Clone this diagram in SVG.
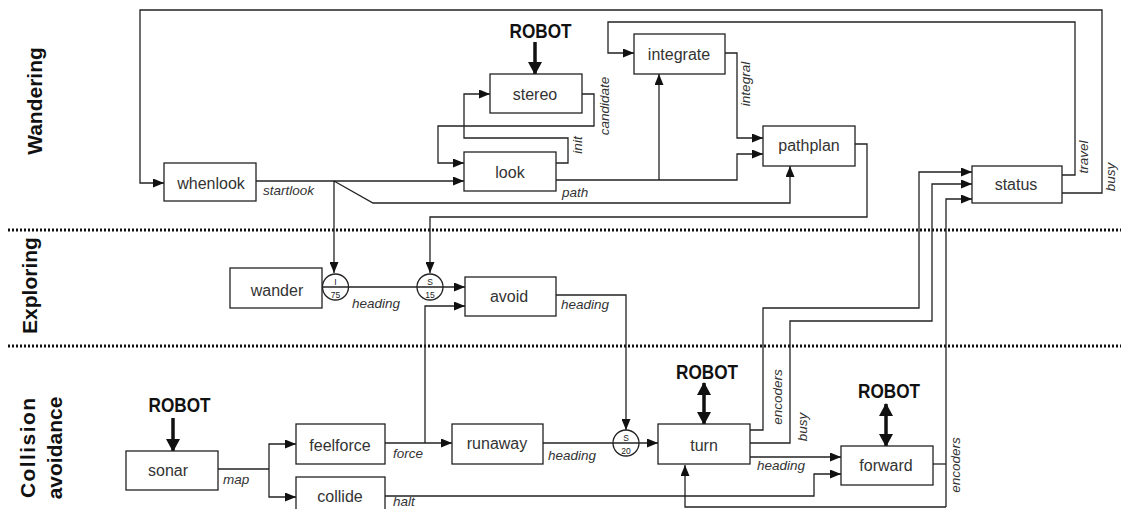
<svg xmlns="http://www.w3.org/2000/svg" width="1121" height="509" viewBox="0 0 1121 509">
<style>
.box{fill:#fff;stroke:#222;stroke-width:1.3}
.lbl{font-family:"Liberation Sans",Arial,sans-serif;font-size:16px;fill:#333;text-anchor:middle}
.it{font-family:"Liberation Sans",Arial,sans-serif;font-size:13.5px;font-style:italic;fill:#333}
.itr{font-family:"Liberation Sans",Arial,sans-serif;font-size:13.5px;font-style:italic;fill:#333;text-anchor:middle}
.side{font-family:"Liberation Sans",Arial,sans-serif;font-size:21px;font-weight:bold;fill:#111;text-anchor:middle}
.robot{font-family:"Liberation Sans",Arial,sans-serif;font-size:20px;font-weight:bold;fill:#111;text-anchor:middle}
.ln{fill:none;stroke:#222;stroke-width:1.3}
.arr{fill:none;stroke:#222;stroke-width:1.3;marker-end:url(#ah)}
.thick{fill:none;stroke:#111;stroke-width:3.5}
.sep{stroke:#111;stroke-width:3;stroke-dasharray:2 2}
.circ{fill:none;stroke:#222;stroke-width:1.3}
.tiny{font-family:"Liberation Sans",Arial,sans-serif;font-size:8.5px;fill:#222;text-anchor:middle}
</style>
<defs>
<marker id="ah" markerUnits="userSpaceOnUse" markerWidth="11" markerHeight="9" refX="11" refY="4.5" orient="auto">
<path d="M0,0 L11,4.5 L0,9 z" fill="#111"/>
</marker>
<marker id="big" markerUnits="userSpaceOnUse" markerWidth="14" markerHeight="14" refX="12" refY="7" orient="auto">
<path d="M0,0 L13,7 L0,14 z" fill="#111"/>
</marker>
<marker id="bigs" markerUnits="userSpaceOnUse" markerWidth="14" markerHeight="14" refX="1" refY="7" orient="auto">
<path d="M13,0 L0,7 L13,14 z" fill="#111"/>
</marker>
</defs>

<g id="separators">
<line class="sep" x1="8" y1="230" x2="1121" y2="230"/>
<line class="sep" x1="8" y1="346" x2="1121" y2="346"/>
</g>

<g id="layer-labels">
<text class="side" transform="translate(42,101) rotate(-90)">Wandering</text>
<text class="side" transform="translate(37,285.5) rotate(-90)">Exploring</text>
<text class="side" transform="translate(35,448) rotate(-90)" textLength="100" lengthAdjust="spacing">Collision</text>
<text class="side" transform="translate(62,448) rotate(-90)">avoidance</text>
</g>

<g id="connectors">
<path class="arr" d="M1062,193 H1102 V10 H140 V183 H164"/>
<path class="arr" d="M1062,175 H1075 V22 H608 V53 H634"/>
<path class="arr" d="M256,181 H464"/>
<path class="arr" d="M334,181 V273"/>
<path class="arr" d="M334,181 L373,203 H790 V166"/>
<path class="arr" d="M582,94 H594 V126 H438 V163 H464"/>
<path class="arr" d="M556,163 H568 V138 H464 V94 H490"/>
<path class="arr" d="M556,180 H737 V154 H763"/>
<path class="arr" d="M659,180 V74"/>
<path class="arr" d="M725,53 H737 V138 H763"/>
<path class="arr" d="M855,144 H867 V217 H430 V273"/>
<path class="arr" d="M322,287 H465"/>
<path class="arr" d="M556,295 H626 V430"/>
<path class="ln" d="M218,469 H269"/>
<path class="arr" d="M269,469 V444 H296"/>
<path class="arr" d="M269,469 V497 H296"/>
<path class="arr" d="M385,443 H452"/>
<path class="arr" d="M425,443 V306 H465"/>
<path class="arr" d="M543,443 H658"/>
<path class="arr" d="M750,430 H763 V308 H919 V172 H972"/>
<path class="arr" d="M750,443 H790 V321 H932 V184 H972"/>
<path class="arr" d="M750,457 H841"/>
<path class="arr" d="M385,496 H814 V474 H841"/>
<path class="ln" d="M933,464 H946"/>
<path class="arr" d="M946,507 V199 H972"/>
<path class="arr" d="M946,507 H685 V465"/>
<path class="thick" d="M535,42 V74" marker-end="url(#big)"/>
<path class="thick" d="M173,418 V451" marker-end="url(#big)"/>
<path class="thick" d="M704,383 V424" marker-start="url(#bigs)" marker-end="url(#big)"/>
<path class="thick" d="M886,404 V446" marker-start="url(#bigs)" marker-end="url(#big)"/>
</g>

<g id="connector-labels">
<text class="it" x="263" y="195">startlook</text>
<text class="it" x="562" y="197">path</text>
<text class="it" x="352" y="308">heading</text>
<text class="it" x="561" y="309">heading</text>
<text class="it" x="223" y="484">map</text>
<text class="it" x="393" y="458">force</text>
<text class="it" x="548" y="460">heading</text>
<text class="it" x="757" y="470">heading</text>
<text class="it" x="393" y="506">halt</text>
<text class="itr" transform="translate(609,106) rotate(-90)">candidate</text>
<text class="itr" transform="translate(582,145) rotate(-90)">init</text>
<text class="itr" transform="translate(750,84) rotate(-90)">integral</text>
<text class="itr" transform="translate(1088,157) rotate(-90)">travel</text>
<text class="itr" transform="translate(1115,177) rotate(-90)">busy</text>
<text class="itr" transform="translate(782,397) rotate(-90)">encoders</text>
<text class="itr" transform="translate(807,427) rotate(-90)">busy</text>
<text class="itr" transform="translate(960,465) rotate(-90)">encoders</text>
</g>

<g id="robot-labels">
<text class="robot" x="540.5" y="38" textLength="62" lengthAdjust="spacingAndGlyphs">ROBOT</text>
<text class="robot" x="179.5" y="412" textLength="62" lengthAdjust="spacingAndGlyphs">ROBOT</text>
<text class="robot" x="707" y="379" textLength="62" lengthAdjust="spacingAndGlyphs">ROBOT</text>
<text class="robot" x="889" y="398" textLength="62" lengthAdjust="spacingAndGlyphs">ROBOT</text>
</g>

<g id="node-inhibit-75">
<circle class="circ" cx="335.5" cy="287" r="13"/>
<text class="tiny" x="335.5" y="284.5">I</text>
<text class="tiny" x="335.5" y="298">75</text>
</g>
<g id="node-suppress-15">
<circle class="circ" cx="430" cy="287" r="13"/>
<text class="tiny" x="430" y="284.5">S</text>
<text class="tiny" x="430" y="298">15</text>
</g>
<g id="node-suppress-20">
<circle class="circ" cx="626" cy="443" r="13"/>
<text class="tiny" x="626" y="440.5">S</text>
<text class="tiny" x="626" y="454">20</text>
</g>

<g id="node-whenlook"><rect class="box" x="164" y="163" width="92" height="38"/><text class="lbl" x="211" y="189">whenlook</text></g>
<g id="node-look"><rect class="box" x="464" y="152" width="92" height="39"/><text class="lbl" x="510" y="178">look</text></g>
<g id="node-stereo"><rect class="box" x="490" y="74" width="92" height="39"/><text class="lbl" x="535" y="100">stereo</text></g>
<g id="node-integrate"><rect class="box" x="634" y="34" width="91" height="40"/><text class="lbl" x="679" y="60">integrate</text></g>
<g id="node-pathplan"><rect class="box" x="763" y="126" width="92" height="40"/><text class="lbl" x="809" y="151">pathplan</text></g>
<g id="node-status"><rect class="box" x="972" y="166" width="90" height="37"/><text class="lbl" x="1016" y="190">status</text></g>
<g id="node-wander"><rect class="box" x="230" y="268" width="92" height="40"/><text class="lbl" x="277" y="296">wander</text></g>
<g id="node-avoid"><rect class="box" x="465" y="277" width="91" height="39"/><text class="lbl" x="509" y="302">avoid</text></g>
<g id="node-sonar"><rect class="box" x="126" y="451" width="92" height="39"/><text class="lbl" x="168" y="476">sonar</text></g>
<g id="node-feelforce"><rect class="box" x="296" y="424" width="89" height="40"/><text class="lbl" x="340" y="451">feelforce</text></g>
<g id="node-collide"><rect class="box" x="296" y="477" width="89" height="40"/><text class="lbl" x="340" y="502">collide</text></g>
<g id="node-runaway"><rect class="box" x="452" y="424" width="91" height="40"/><text class="lbl" x="497" y="449">runaway</text></g>
<g id="node-turn"><rect class="box" x="658" y="424" width="92" height="40"/><text class="lbl" x="704" y="451">turn</text></g>
<g id="node-forward"><rect class="box" x="841" y="446" width="92" height="39"/><text class="lbl" x="886" y="471">forward</text></g>
</svg>
